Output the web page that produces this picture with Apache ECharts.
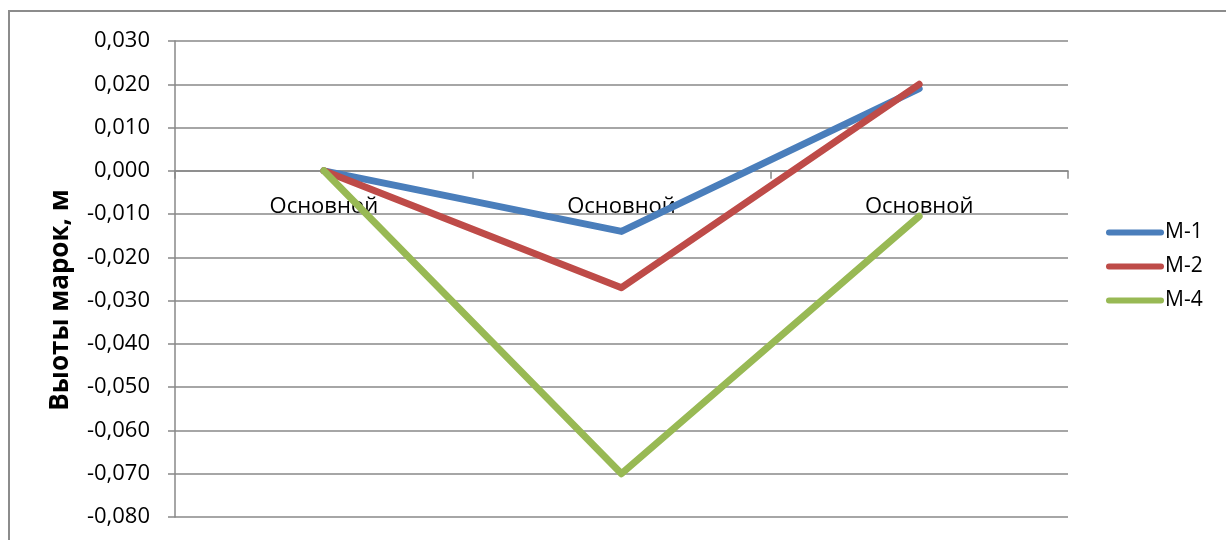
<!DOCTYPE html>
<html>
<head>
<meta charset="utf-8">
<script src="https://cdn.jsdelivr.net/npm/echarts@6/dist/echarts.min.js"></script>
<style>
	html, body { margin: 0; padding: 0; background: #fff; }
	#frame {
		position: absolute; left: 8px; top: 10px; width: 1230px; height: 540px;
		border-left: 2px solid #8c8c8c; border-top: 2px solid #8c8c8c;
	}
	#chart { position: absolute; left: 0; top: 0; width: 1226px; height: 540px; }
</style>
</head>
<body>
<div id="frame"></div>
<div id="chart"></div>
<script>
	// категории и значения (высоты марок, м)
	var categories = ['Основной', 'Основной', 'Основной'];
	var m1 = [0, -0.014, 0.019];
	var m2 = [0, -0.027, 0.020];
	var m4 = [0, -0.070, -0.0105];
	var seriesNames = ['M-1', 'M-2', 'M-4'];
	var colors = ['#4a7ebb', '#be4b48', '#98b954'];

	var font = 'Open Sans';
	var axisGray = '#888888';

	var chart = echarts.init(document.getElementById('chart'));

	function lineSeries(name, data, idx) {
		return {
			name: name,
			type: 'line',
			data: data,
			symbol: 'none',
			lineStyle: { width: 7, color: colors[idx], cap: 'round', join: 'round' },
			itemStyle: { color: colors[idx] },
			z: 10 + idx
		};
	}

	var option = {
		animation: false,
		grid: { left: 175, right: 158, top: 41, bottom: 23, outerBoundsMode: 'none' },
		legend: {
			orient: 'vertical',
			left: 1101,
			top: 217,
			itemWidth: 58,
			itemHeight: 14,
			itemGap: 13,
			icon: 'path://M3,0 H55 A3,3 0 0 1 55,6 H3 A3,3 0 0 1 3,0 Z',
			textStyle: { fontFamily: font, fontSize: 21, color: '#000', padding: [0, 0, 0, -4] },
			data: seriesNames
		},
		xAxis: {
			type: 'category',
			data: categories,
			boundaryGap: true,
			z: 0,
			axisLine: { onZero: true, lineStyle: { color: axisGray, width: 1.5 } },
			axisTick: { show: true, length: 8, lineStyle: { color: axisGray, width: 1.5 } },
			// подписи категорий стоят под нулевой линией, как в исходнике
			axisLabel: { margin: -321, fontFamily: font, fontSize: 22, color: '#000', interval: 0 },
			splitLine: { show: false }
		},
		yAxis: {
			type: 'value',
			min: -0.08,
			max: 0.03,
			interval: 0.01,
			z: 0,
			name: 'Выоты марок, м',
			nameLocation: 'middle',
			nameGap: 101,
			nameTextStyle: { fontFamily: font, fontSize: 26, fontWeight: 'bold', color: '#000', padding: [0, 42, 0, 0] },
			axisLine: { show: true, lineStyle: { color: axisGray, width: 1.5 } },
			axisTick: { show: true, length: 7, lineStyle: { color: axisGray, width: 1.5 } },
			axisLabel: {
				margin: 25,
				fontFamily: font,
				fontSize: 22,
				color: '#000',
				formatter: function (v) {
					return (Math.round(v * 1000) / 1000).toFixed(3).replace('.', ',');
				}
			},
			splitLine: { show: true, lineStyle: { color: axisGray, width: 1.5 } }
		},
		series: [
			lineSeries(seriesNames[0], m1, 0),
			lineSeries(seriesNames[1], m2, 1),
			lineSeries(seriesNames[2], m4, 2)
		]
	};

	chart.setOption(option);
</script>
</body>
</html>
